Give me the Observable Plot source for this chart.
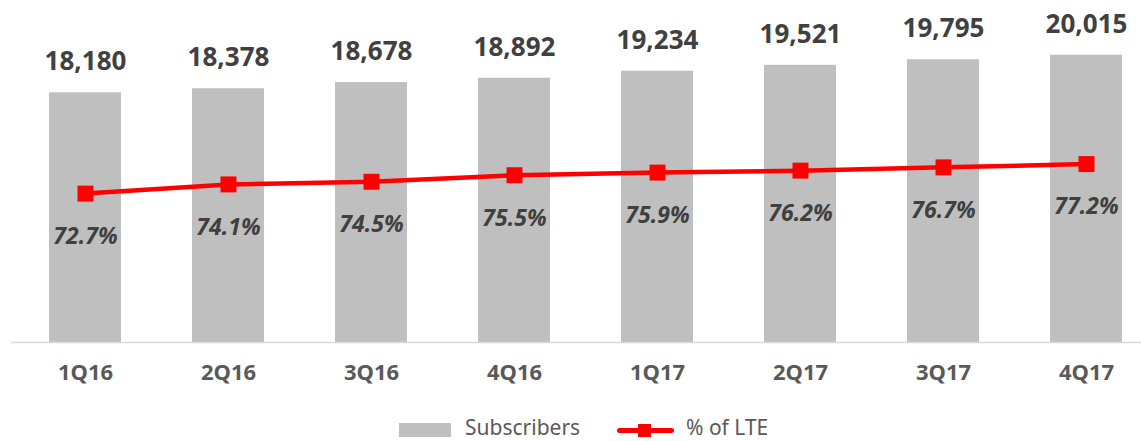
<!DOCTYPE html>
<html>
<head>
<meta charset="utf-8">
<script src="https://cdn.jsdelivr.net/npm/d3@7"></script>
<script src="https://cdn.jsdelivr.net/npm/@observablehq/plot@0.6"></script>
<style>
  html, body { margin: 0; padding: 0; background: #fff; }
  #wrap { position: relative; width: 1141px; height: 441px; font-family: "Noto Sans", sans-serif; }
  #wrap svg { position: absolute; left: 0; top: 0; }
  .leg { position: absolute; font-size: 21px; color: #595959; line-height: 1; white-space: nowrap; }
</style>
</head>
<body>
<div id="wrap"></div>
<script>
const quarters = ["1Q16","2Q16","3Q16","4Q16","1Q17","2Q17","3Q17","4Q17"];
const subscribers = [18180, 18378, 18678, 18892, 19234, 19521, 19795, 20015];
const lteShare = [72.7, 74.1, 74.5, 75.5, 75.9, 76.2, 76.7, 77.2];
const seriesNames = ["Subscribers", "% of LTE"];

const rows = quarters.map((q, i) => ({q, subs: subscribers[i], lte: lteShare[i]}));

const W = 1141, H = 400;
const common = {
  width: W, height: H,
  marginTop: 14, marginBottom: 58, marginLeft: 11, marginRight: 0,
  style: {fontFamily: "Noto Sans, sans-serif", background: "transparent", overflow: "visible"},
};
const xScale = {domain: quarters, range: [10.7, 1159.5], paddingInner: 0.5, paddingOuter: 0.25, label: null};

const bars = Plot.plot({
  ...common,
  x: {...xScale, axis: null},
  y: {domain: [6000, 22000], axis: null},
  marks: [
    Plot.barY(rows, {x: "q", y1: 6000, y2: "subs", fill: "#bfbfbf"}),
    Plot.ruleY([6000], {stroke: "#d9d9d9", strokeWidth: 1.5}),
    Plot.text(rows, {x: "q", y: "subs", text: d => d3.format(",")(d.subs), dy: -31,
      fontSize: 26, fontWeight: "bold", fill: "#404040"}),
    Plot.axisX({tickSize: 0, tickPadding: 22, fontSize: 22, fontWeight: "bold", fill: "#595959", label: null})
  ]
});

const line = Plot.plot({
  ...common,
  x: {...xScale, axis: null},
  y: {domain: [50, 100], axis: null},
  marks: [
    Plot.line(rows, {x: "q", y: "lte", stroke: "#ff0000", strokeWidth: 4.5}),
    Plot.dot(rows, {x: "q", y: "lte", symbol: "square", r: 9, fill: "#ff0000"}),
    Plot.text(rows, {x: "q", y: "lte", text: d => d.lte.toFixed(1) + "%", dy: 43,
      fontSize: 23, fontWeight: "bold", fontStyle: "italic", fill: "#404040"})
  ]
});

const wrap = document.getElementById("wrap");
wrap.appendChild(bars);
wrap.appendChild(line);

// legend below the chart
const leg = document.createElement("div");
leg.innerHTML = `
  <div style="position:absolute;left:399px;top:423px;width:52px;height:14px;background:#bfbfbf"></div>
  <div class="leg" style="left:465px;top:417px">${seriesNames[0]}</div>
  <div style="position:absolute;left:617px;top:428px;width:57px;height:5px;background:#ff0000;border-radius:3px"></div>
  <div style="position:absolute;left:638px;top:424px;width:13px;height:13px;background:#ff0000"></div>
  <div class="leg" style="left:686px;top:417px">${seriesNames[1]}</div>`;
wrap.appendChild(leg);
</script>
</body>
</html>
